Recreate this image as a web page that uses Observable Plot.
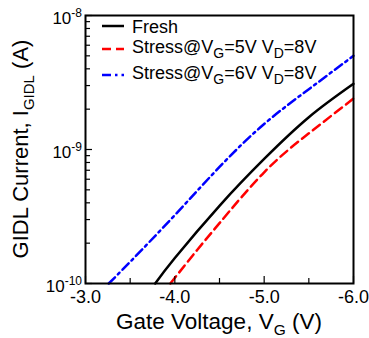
<!DOCTYPE html>
<html>
<head>
<meta charset="utf-8">
<script src="https://cdn.jsdelivr.net/npm/d3@7"></script>
<script src="https://cdn.jsdelivr.net/npm/@observablehq/plot@0.6"></script>
<style>
  html, body { margin: 0; padding: 0; background: white; }
  svg text { font-family: "Liberation Sans", Arial, sans-serif; }
</style>
</head>
<body>
<div id="chart"></div>
<script>
// ---- data ----
const freshV = [-3.78, -4.0, -4.5, -5.0, -5.5, -6.0];
const freshI = [1.0e-10, 1.55e-10, 3.80e-10, 8.5e-10, 1.74e-9, 3.09e-9];

const stress5V = [-3.95, -4.25, -4.5, -5.0, -5.5, -6.0];
const stress5I = [1.0e-10, 1.78e-10, 2.82e-10, 6.76e-10, 1.32e-9, 2.40e-9];

const stress6V = [-3.26, -3.5, -4.0, -4.5, -5.0, -5.5, -6.0];
const stress6I = [1.0e-10, 1.45e-10, 3.24e-10, 7.41e-10, 1.55e-9, 2.82e-9, 5.01e-9];

const xTicksMajor = [-3, -4, -5, -6];
const xTicksMinor = [-3.5, -4.5, -5.5];
const yTicksMajor = [1e-10, 1e-9, 1e-8];
const yTickExp = ["-10", "-9", "-8"];
const yTicksMinor = [2e-10, 3e-10, 4e-10, 5e-10, 6e-10, 7e-10, 8e-10, 9e-10,
                     2e-9, 3e-9, 4e-9, 5e-9, 6e-9, 7e-9, 8e-9, 9e-9];

const seriesColors = ["#000000", "#ff0000", "#0000ff"];
const seriesDash = [null, "9,5", "9,4,2.5,4"];
const legendVG = ["5", "6"];

// ---- build rows ----
const fresh = freshV.map((v, k) => ({v, i: freshI[k]}));
const s5 = stress5V.map((v, k) => ({v, i: stress5I[k]}));
const s6 = stress6V.map((v, k) => ({v, i: stress6I[k]}));

const W = 369, H = 338, ML = 85, MR = 16, MT = 15, MB = 55;
const PW = W - ML - MR, PH = H - MT - MB;

const plot = Plot.plot({
  width: W, height: H,
  marginLeft: ML, marginRight: MR, marginTop: MT, marginBottom: MB,
  style: {fontFamily: "Liberation Sans, Arial, sans-serif", fontSize: "18px", background: "white", color: "black"},
  x: {domain: [-3, -6], ticks: xTicksMajor, tickSize: 0, tickPadding: 7,
      tickFormat: d => d.toFixed(1), label: null},
  y: {type: "log", domain: [1e-10, 1e-8], axis: null},
  marks: [
    Plot.line(fresh, {x: "v", y: "i", stroke: seriesColors[0], strokeWidth: 2.5, curve: "natural"}),
    Plot.line(s5, {x: "v", y: "i", stroke: seriesColors[1], strokeWidth: 2.5, strokeDasharray: seriesDash[1], curve: "natural"}),
    Plot.line(s6, {x: "v", y: "i", stroke: seriesColors[2], strokeWidth: 2.5, strokeDasharray: seriesDash[2], curve: "natural"}),
    Plot.tickX(xTicksMajor, {x: d => d, insetTop: PH - 7, stroke: "black", strokeWidth: 1.2}),
    Plot.tickX(xTicksMinor, {x: d => d, insetTop: PH - 5, stroke: "black", strokeWidth: 1.2}),
    Plot.tickY(yTicksMajor, {y: d => d, insetRight: PW - 7, stroke: "black", strokeWidth: 1.2}),
    Plot.tickY(yTicksMinor, {y: d => d, insetRight: PW - 5, stroke: "black", strokeWidth: 1.2}),
    Plot.frame({stroke: "black", strokeWidth: 2})
  ]
});

document.getElementById("chart").appendChild(plot);

const svg = d3.select(plot);
const ys = plot.scale("y");

// y tick labels 10^n
yTicksMajor.forEach((v, k) => {
  const y = ys.apply(v);
  const t = svg.append("text")
    .attr("x", ML - 3).attr("y", y + 9)
    .attr("text-anchor", "end").attr("fill", "black")
    .style("font-size", "17px");
  t.append("tspan").text("10");
  t.append("tspan").attr("dy", -7).style("font-size", "12px").text(yTickExp[k]);
});

// x title
const xt = svg.append("text")
  .attr("x", ML + PW / 2).attr("y", 329)
  .attr("text-anchor", "middle").attr("fill", "black")
  .style("font-size", "22.5px");
xt.append("tspan").text("Gate Voltage, V");
xt.append("tspan").attr("dy", 6).style("font-size", "15.5px").text("G");
xt.append("tspan").attr("dy", -6).text(" (V)");

// y title
const yt = svg.append("text")
  .attr("transform", `translate(28,${MT + PH / 2}) rotate(-90)`)
  .attr("text-anchor", "middle").attr("fill", "black")
  .style("font-size", "22px");
yt.append("tspan").text("GIDL Current, I");
yt.append("tspan").attr("dy", 6).style("font-size", "15px").text("GIDL");
yt.append("tspan").attr("dy", -6).text(" (A)");

// legend
const legY = [26, 49, 75];
legY.forEach((y, k) => {
  const l = svg.append("line")
    .attr("x1", 102).attr("x2", 124).attr("y1", y).attr("y2", y)
    .attr("stroke", seriesColors[k]).attr("stroke-width", 2.5);
  if (seriesDash[k]) l.attr("stroke-dasharray", seriesDash[k]);
});
const lt0 = svg.append("text").attr("x", 132).attr("y", legY[0] + 6.5)
  .attr("text-anchor", "start").attr("fill", "black").style("font-size", "18px");
lt0.append("tspan").text("Fresh");
legendVG.forEach((vg, j) => {
  const t = svg.append("text").attr("x", 132).attr("y", legY[j + 1] + 4)
    .attr("text-anchor", "start").attr("fill", "black").style("font-size", "18px");
  t.append("tspan").text("Stress@V");
  t.append("tspan").attr("dy", 5).style("font-size", "14px").text("G");
  t.append("tspan").attr("dy", -5).text("=" + vg + "V V");
  t.append("tspan").attr("dy", 5).style("font-size", "14px").text("D");
  t.append("tspan").attr("dy", -5).text("=8V");
});
</script>
</body>
</html>
